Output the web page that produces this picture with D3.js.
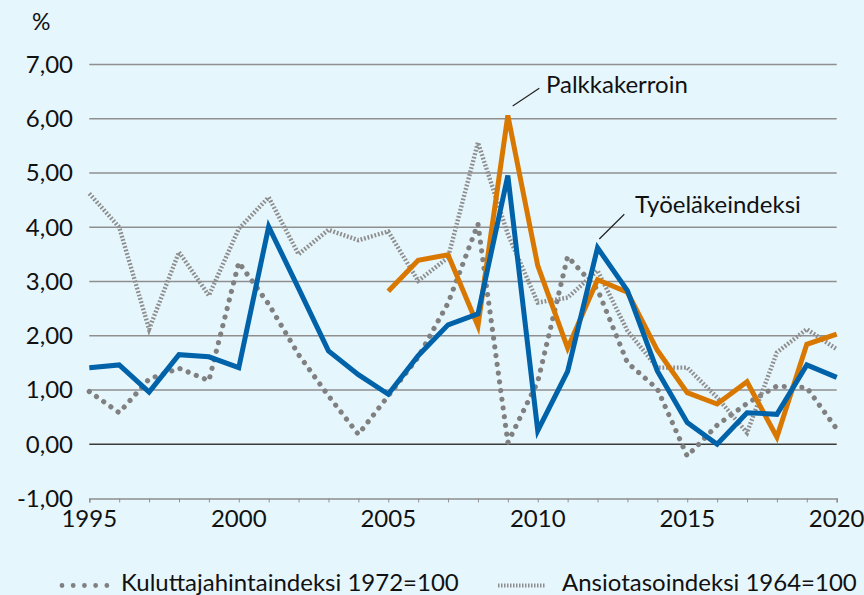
<!DOCTYPE html>
<html>
<head>
<meta charset="utf-8">
<script src="https://cdn.jsdelivr.net/npm/d3@7"></script>
<style>
  html, body { margin: 0; padding: 0; background: #e6f6fd; }
  svg { display: block; font-family: Lato, "Open Sans", sans-serif; }
</style>
</head>
<body>
<svg id="chart" width="864" height="595"></svg>
<script>
// Data
var years = d3.range(1995, 2021);
var yTicks = [-1, 0, 1, 2, 3, 4, 5, 6, 7];
var xLabels = [1995, 2000, 2005, 2010, 2015, 2020];

var tyoelake = [1.41, 1.46, 0.96, 1.65, 1.61, 1.41, 4.01, 2.87, 1.72, 1.28,
  0.92, 1.63, 2.20, 2.40, 4.95, 0.25, 1.34, 3.62, 2.83, 1.35,
  0.40, 0.00, 0.58, 0.55, 1.46, 1.23];
// Palkkakerroin starts 2005
var palkka = [null, null, null, null, null, null, null, null, null, null,
  2.82, 3.39, 3.49, 2.18, 6.06, 3.29, 1.77, 3.03, 2.80, 1.73,
  0.95, 0.74, 1.15, 0.13, 1.84, 2.03];
var kulutta = [0.97, 0.58, 1.20, 1.40, 1.17, 3.35, 2.58, 1.65, 0.89, 0.18,
  0.89, 1.60, 2.60, 4.06, 0.03, 1.15, 3.46, 2.85, 1.50, 1.02,
  -0.22, 0.35, 0.75, 1.07, 1.04, 0.28];
var ansio = [4.62, 4.00, 2.12, 3.54, 2.74, 3.97, 4.55, 3.50, 3.95, 3.76,
  3.92, 3.01, 3.44, 5.56, 3.87, 2.61, 2.70, 3.20, 2.09, 1.41,
  1.41, 0.86, 0.21, 1.69, 2.12, 1.75];

var svg = d3.select("#chart");

var x = d3.scaleLinear().domain([1995, 2020]).range([89.3, 836.7]);
var y = d3.scaleLinear().domain([-1, 7]).range([498.4, 64.4]);

var fmt = function(v) { return d3.format(".2f")(v).replace(".", ",").replace("−", "-"); };

// Gridlines
svg.append("g")
  .selectAll("line")
  .data(yTicks.filter(function(d) { return d > -1; }))
  .enter().append("line")
  .attr("x1", x(1995)).attr("x2", x(2020))
  .attr("y1", function(d) { return y(d); })
  .attr("y2", function(d) { return y(d); })
  .style("stroke", function(d) { return d === 0 ? "#3a3a3a" : "#8f8f8f"; })
  .style("stroke-width", 1.5);

// X axis at -1
var xAxis = d3.axisBottom(x)
  .tickValues(years)
  .tickSize(4)
  .tickFormat("");
var gx = svg.append("g")
  .attr("transform", "translate(0," + y(-1) + ")")
  .call(xAxis);
gx.select(".domain").style("stroke", "#8f8f8f").style("stroke-width", 1.5);
gx.selectAll(".tick line").style("stroke", "#8f8f8f");

svg.append("g")
  .selectAll("text")
  .data(xLabels)
  .enter().append("text")
  .attr("x", function(d) { return x(d); })
  .attr("y", 527)
  .attr("text-anchor", "middle")
  .style("font-size", "24px")
  .style("fill", "#111")
  .text(function(d) { return d; });

// Y labels
svg.append("g")
  .selectAll("text")
  .data(yTicks)
  .enter().append("text")
  .attr("x", 73)
  .attr("y", function(d) { return y(d) + 8.5; })
  .attr("text-anchor", "end")
  .style("font-size", "24px")
  .style("fill", "#111")
  .text(fmt);

svg.append("text")
  .attr("x", 32).attr("y", 30)
  .style("font-size", "23px")
  .style("fill", "#111")
  .text("%");

// Lines
function lineFor(values) {
  return d3.line()
    .defined(function(d, i) { return values[i] !== null; })
    .x(function(d) { return x(d); })
    .y(function(d, i) { return y(values[i]); })(years);
}

svg.append("path")
  .attr("d", lineFor(kulutta))
  .style("fill", "none")
  .style("stroke", "#808080")
  .style("stroke-width", 5.2)
  .style("stroke-linecap", "round")
  .style("stroke-dasharray", "0.01 8.8");

svg.append("path")
  .attr("d", lineFor(ansio))
  .style("fill", "none")
  .style("stroke", "#8e8e8e")
  .style("stroke-width", 4.4)
  .style("stroke-dasharray", "1.8 1.8");

svg.append("path")
  .attr("d", lineFor(palkka))
  .style("fill", "none")
  .style("stroke", "#d97800")
  .style("stroke-width", 5)
  .style("stroke-linejoin", "miter");

svg.append("path")
  .attr("d", lineFor(tyoelake))
  .style("fill", "none")
  .style("stroke", "#0062a9")
  .style("stroke-width", 5)
  .style("stroke-linejoin", "miter");

// Annotations
svg.append("line")
  .attr("x1", 512.7).attr("y1", 106).attr("x2", 539.3).attr("y2", 88.3)
  .style("stroke", "#222").style("stroke-width", 1.2);
svg.append("text")
  .attr("x", 546).attr("y", 93)
  .style("font-size", "24px").style("fill", "#111")
  .text("Palkkakerroin");

svg.append("line")
  .attr("x1", 599.3).attr("y1", 239).attr("x2", 624.3).attr("y2", 214.3)
  .style("stroke", "#222").style("stroke-width", 1.2);
svg.append("text")
  .attr("x", 635).attr("y", 213)
  .style("font-size", "24px").style("fill", "#111")
  .text("Työeläkeindeksi");

// Legend
var legend = svg.append("g");
legend.append("line")
  .attr("x1", 62).attr("x2", 107).attr("y1", 585.5).attr("y2", 585.5)
  .style("stroke", "#808080")
  .style("stroke-width", 4.8)
  .style("stroke-linecap", "round")
  .style("stroke-dasharray", "0.01 11.2");
legend.append("text")
  .attr("x", 121).attr("y", 591)
  .style("font-size", "24px").style("fill", "#111")
  .text("Kuluttajahintaindeksi 1972=100");

legend.append("line")
  .attr("x1", 498).attr("x2", 545).attr("y1", 585.5).attr("y2", 585.5)
  .style("stroke", "#8e8e8e")
  .style("stroke-width", 4)
  .style("stroke-dasharray", "1.5 1.5");
legend.append("text")
  .attr("x", 562).attr("y", 591)
  .style("font-size", "24px").style("fill", "#111")
  .text("Ansiotasoindeksi 1964=100");
</script>
</body>
</html>
